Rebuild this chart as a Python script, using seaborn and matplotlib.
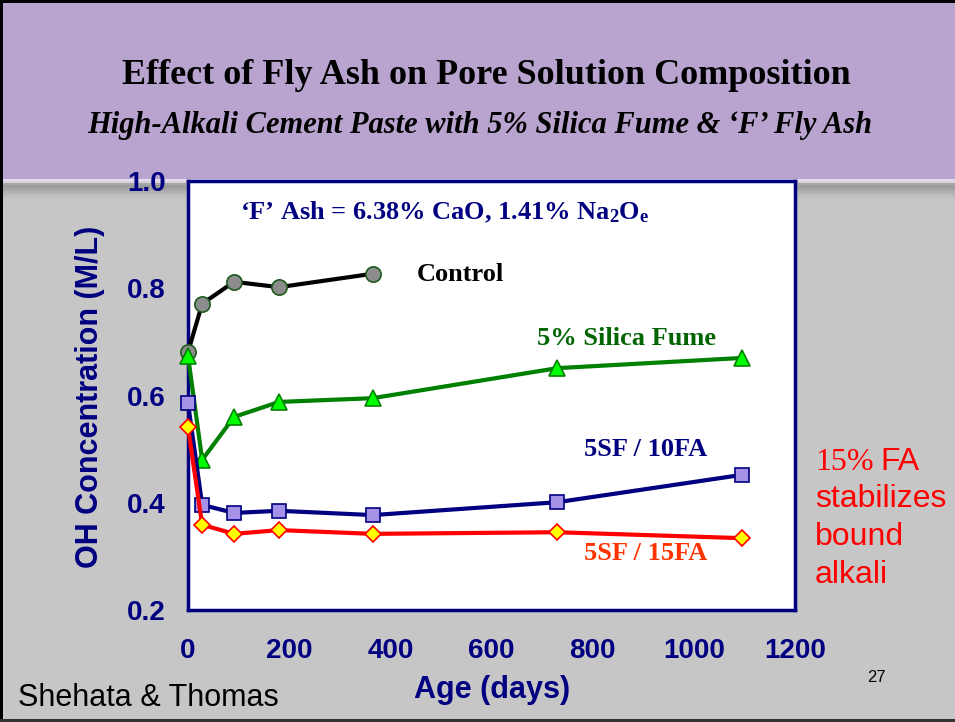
import numpy as np
import pandas as pd
import matplotlib
matplotlib.use("Agg")
import matplotlib.pyplot as plt
import matplotlib.patches as mpatches
import seaborn as sns

# data (age in days, OH concentration in M/L)
age_control = [0, 28, 91, 180, 365]
oh_control = [0.681, 0.771, 0.812, 0.802, 0.827]

age_mix = [0, 28, 91, 180, 365, 730, 1095]
oh_sf5 = [0.674, 0.480, 0.560, 0.588, 0.595, 0.651, 0.670]
oh_sf5_fa10 = [0.586, 0.396, 0.381, 0.385, 0.377, 0.401, 0.452]
oh_sf5_fa15 = [0.541, 0.359, 0.342, 0.349, 0.342, 0.345, 0.334]

x_ticks = [0, 200, 400, 600, 800, 1000, 1200]
y_ticks = [0.2, 0.4, 0.6, 0.8, 1.0]

navy = "#000080"

sns.set_style("white")
plt.rcParams["font.family"] = ["Liberation Sans", "DejaVu Sans"]
plt.rcParams["text.color"] = "black"
plt.rcParams["mathtext.fontset"] = "custom"
plt.rcParams["mathtext.rm"] = "Liberation Serif:bold"
plt.rcParams["mathtext.bf"] = "Liberation Serif:bold"
plt.rcParams["mathtext.it"] = "Liberation Serif:bold:italic"

fig = plt.figure(figsize=(9.55, 7.22), dpi=100)
fig.patch.set_facecolor("#C6C6C6")

# slide background: purple header + shaded band
W, H = 955, 722
def fig_rect(x0, y0, x1, y1, color):
    fig.patches.append(mpatches.Rectangle((x0 / W, 1 - y1 / H), (x1 - x0) / W, (y1 - y0) / H,
                                          transform=fig.transFigure, facecolor=color,
                                          edgecolor="none", zorder=-10))

fig_rect(0, 0, W, 179, "#B8A4CF")
band = ["#E4DCEC", "#D8D0DF", "#A8A8A8", "#9C9C9C", "#A0A0A0", "#A8A8A8",
        "#B0B0B0", "#B8B8B8", "#BEBEBE", "#C2C2C2", "#C5C5C5"]
for i, c in enumerate(band):
    fig_rect(0, 179 + i * 2, W, 181 + i * 2, c)
# slide border
fig_rect(0, 0, W, 3, "black")
fig_rect(0, 0, 3, H, "black")
fig_rect(0, H - 3, W, H, "#333333")

ax = fig.add_axes([188 / W, 1 - 610 / H, (795 - 188) / W, (610 - 181) / H])
ax.set_facecolor("white")

series = [
    (age_control, oh_control, "black", "o", "#8C8C8C", "#1E5A1E", 11),
    (age_mix, oh_sf5, "#008000", "^", "#00FF00", "#008000", 11),
    (age_mix, oh_sf5_fa10, navy, "s", "#A693E8", navy, 10),
    (age_mix, oh_sf5_fa15, "#FF0000", "D", "#FFFF00", "#FF0000", 8),
]
for xs, ys, lc, mk, mfc, mec, ms in series:
    df = pd.DataFrame({"age": xs, "oh": ys})
    sns.lineplot(data=df, x="age", y="oh", ax=ax, color=lc, linewidth=3,
                 marker=mk, markersize=ms, markerfacecolor=mfc, markeredgecolor=mec,
                 markeredgewidth=1.2, clip_on=False, zorder=3)

ax.set_xlim(0, 1200)
ax.set_ylim(0.2, 1.0)
ax.set_xticks(x_ticks)
ax.set_yticks(y_ticks)
ax.set_xticks(np.arange(0, 1201, 50), minor=True)
ax.set_yticks(np.arange(0.2, 1.01, 0.1), minor=True)
ax.set_xticklabels([str(t) for t in x_ticks])
ax.set_yticklabels([f"{t:.1f}" for t in y_ticks])

for s in ax.spines.values():
    s.set_color(navy)
    s.set_linewidth(2.5)
ax.tick_params(axis="x", which="major", direction="inout", length=12, width=2, color=navy,
               pad=14, labelsize=20, labelcolor=navy)
ax.tick_params(axis="x", which="minor", direction="inout", length=8, width=1.5, color=navy)
ax.tick_params(axis="y", which="major", direction="out", length=7, width=2, color=navy,
               pad=9, labelsize=20, labelcolor=navy)
ax.tick_params(axis="y", which="minor", direction="out", length=7, width=1.5, color=navy)
for lab in ax.get_xticklabels() + ax.get_yticklabels():
    lab.set_fontweight("bold")

ax.set_xlabel("")
ax.set_ylabel("")
fig.text(492 / W, 1 - 690 / H, "Age (days)", ha="center", va="center", fontsize=22,
         fontweight="bold", color=navy)
fig.text(90 / W, 1 - 397 / H, "OH Concentration (M/L)", ha="center", va="center",
         rotation=90, fontsize=22, fontweight="bold", color=navy)

# titles
fig.text(486 / W, 1 - 76 / H, "Effect of Fly Ash on Pore Solution Composition",
         ha="center", va="center", fontsize=26, fontweight="bold", family="Liberation Serif",
         color="black")
fig.text(480 / W, 1 - 125 / H, "High-Alkali Cement Paste with 5% Silica Fume & \u2018F\u2019 Fly Ash",
         ha="center", va="center", fontsize=22, fontweight="bold", style="italic",
         family="Liberation Serif", color="black")

# in-plot labels
serif = dict(family="Liberation Serif", fontweight="bold", fontsize=19, va="center")
ax.text(103, 0.942, "\u2018F\u2019 Ash = 6.38% CaO, 1.41% Na$_{2}$O$_{\\mathrm{e}}$",
        color=navy, **serif)
ax.text(453, 0.825, "Control", color="black", **serif)
ax.text(690, 0.707, "5% Silica Fume", color="#006400", **serif)
ax.text(783, 0.500, "5SF / 10FA", color=navy, **serif)
ax.text(783, 0.306, "5SF / 15FA", color="#FF3300", **serif)

# side note
red = "#FF0000"
fig.text(815 / W, 1 - 462 / H, "15%", color=red, fontsize=23, va="center",
         family="Liberation Serif")
fig.text(880 / W, 1 - 462 / H, "FA", color=red, fontsize=23, va="center")
for txt, yp in [("stabilizes", 499), ("bound", 537), ("alkali", 575)]:
    fig.text(815 / W, 1 - yp / H, txt, color=red, fontsize=23, va="center")

fig.text(18 / W, 1 - 698 / H, "Shehata & Thomas", fontsize=22, va="center", color="black")
fig.text(876 / W, 1 - 678 / H, "27", fontsize=12, ha="center", va="center", color="black")

fig.savefig("out.png", dpi=100, facecolor=fig.get_facecolor())
